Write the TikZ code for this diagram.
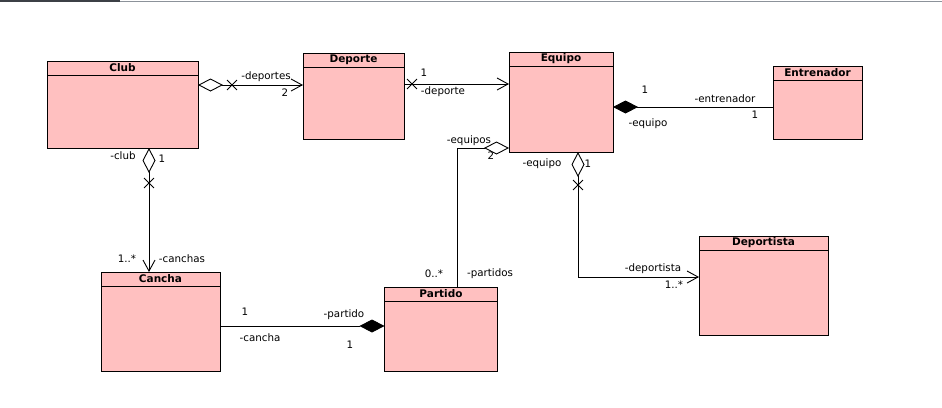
\documentclass[tikz,border=0pt]{standalone}
\usepackage{fontspec}
\setmainfont{DejaVu Sans}
\usetikzlibrary{arrows.meta, positioning, shapes.misc}
\definecolor{rosa}{RGB}{255,192,192}
\definecolor{barraosc}{RGB}{60,64,70}
\definecolor{barragris}{RGB}{140,146,154}
\tikzset{
  rombo/.tip={Diamond[open, length=25pt, width=13pt]},
  romboN/.tip={Diamond[length=25pt, width=13pt]},
  punta/.tip={Straight Barb[length=11pt, width=12pt]}
}

\begin{document}
\begin{tikzpicture}[x=1pt, y=-1pt, line width=0.9pt,
    clase/.style={draw, rectangle, fill=rosa, inner sep=0pt, outer sep=0pt},
    cabecera/.style={draw, rectangle, fill=rosa, inner sep=0pt, outer sep=0pt, minimum height=14pt, anchor=north, font=\fontsize{10.5}{12}\selectfont\bfseries},
    etiqueta/.style={font=\fontsize{10.3}{12}\selectfont, inner sep=0pt},
    cruz/.style={draw, cross out, minimum size=9pt, inner sep=0pt}]
        \useasboundingbox (0,0) rectangle (942,407);

        % Barra superior
        \draw[barraosc, line width=2pt] (0,1) -- (120,1);
        \draw[barragris, line width=1pt] (120,1.5) -- (942,1.5);

        % Clases
        \foreach \nombre/\titulo/\cx/\cy/\ancho/\alto in {club/Club/122.5/104.5/151/87,
                deporte/Deporte/353.5/96/101/86,
                equipo/Equipo/561/102/104/100,
                entrenador/Entrenador/817.5/102.5/89/73,
                deportista/Deportista/763.5/285.5/129/99,
                cancha/Cancha/160.5/321.5/119/99,
                partido/Partido/441/329/113/84} {
            \node[clase, minimum width=\ancho pt, minimum height=\alto pt] (\nombre) at (\cx,\cy) {};
            \node[cabecera, minimum width=\ancho pt] (\nombre-t) at (\nombre.north) {\titulo};
        }

        % Club - Deporte
        \coordinate (c1) at ([yshift=19.5pt]club.east);
        \draw[{rombo}-{punta}] (c1) -- (c1 -| deporte.west);
        \node[cruz] (x1) at ([xshift=34pt]c1) {};
        \node[etiqueta] (l1a) at (266,77) {-deportes};
        \node[etiqueta] (l1b) at (285,93) {2};

        % Deporte - Equipo
        \coordinate (c2) at ([yshift=12pt]deporte.east);
        \draw[-{punta}] (c2) -- (c2 -| equipo.west);
        \node[cruz] (x2) at ([xshift=8pt]c2) {};
        \node[etiqueta] (l2a) at (424,73) {1};
        \node[etiqueta] (l2b) at (443,92) {-deporte};

        % Equipo - Entrenador
        \coordinate (c3) at ([yshift=-5pt]equipo.east);
        \draw[{romboN}-] (c3) -- (c3 -| entrenador.west);
        \node[etiqueta] (l3a) at (645,90) {1};
        \node[etiqueta] (l3b) at (648,124) {-equipo};
        \node[etiqueta] (l3c) at (725,99) {-entrenador};
        \node[etiqueta] (l3d) at (755,115) {1};

        % Equipo - Partido
        \coordinate (c4) at ([yshift=-46pt]equipo.west);
        \coordinate (c4b) at ([xshift=16pt]partido.north);
        \draw[{rombo}-] (c4) -| (c4b);
        \node[etiqueta] (l4a) at (469,141) {-equipos};
        \node[etiqueta] (l4b) at (491,156) {2};
        \node[etiqueta] (l4c) at (434,274) {0..*};
        \node[etiqueta] (l4d) at (490,274) {-partidos};

        % Equipo - Deportista
        \coordinate (c5) at ([xshift=17pt]equipo.south);
        \coordinate (c5b) at ([yshift=8.5pt]deportista.west);
        \draw[{rombo}-{punta}] (c5) |- (c5b);
        \node[cruz] (x5) at ([yshift=-33pt]c5) {};
        \node[etiqueta] (l5a) at (542,164) {-equipo};
        \node[etiqueta] (l5b) at (588,164) {1};
        \node[etiqueta] (l5c) at (653,269) {-deportista};
        \node[etiqueta] (l5d) at (674,285) {1..*};

        % Club - Cancha
        \coordinate (c6) at ([xshift=26.5pt]club.south);
        \draw[{rombo}-{punta}] (c6) -- (c6 |- cancha.north);
        \node[cruz] (x6) at ([yshift=-35pt]c6) {};
        \node[etiqueta] (l6a) at (123,156) {-club};
        \node[etiqueta] (l6b) at (162,159) {1};
        \node[etiqueta] (l6c) at (127,259) {1..*};
        \node[etiqueta] (l6d) at (182,259) {-canchas};

        % Cancha - Partido
        \coordinate (c7) at ([yshift=-4.5pt]cancha.east);
        \draw[-{romboN}] (c7) -- (c7 -| partido.west);
        \node[etiqueta] (l7a) at (245,312) {1};
        \node[etiqueta] (l7b) at (344,315) {-partido};
        \node[etiqueta] (l7c) at (260,338) {-cancha};
        \node[etiqueta] (l7d) at (350,345) {1};
    \end{tikzpicture}
\end{document}
